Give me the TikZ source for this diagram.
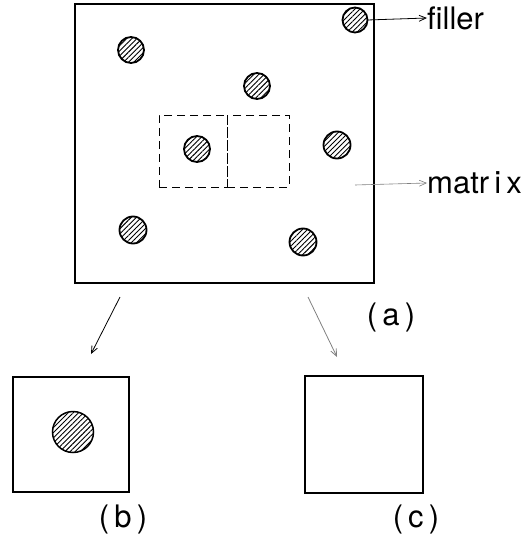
\documentclass[tikz,border=0pt]{standalone}
\usepackage{fontspec}
\setmainfont{TeX Gyre Heros}
\usetikzlibrary{arrows.meta,patterns.meta}
\begin{document}
\begin{tikzpicture}[x=1pt,y=-1pt,
  box/.style={draw,line width=1.3pt,inner sep=0,outer sep=0},
  dbox/.style={draw,dashed,dash pattern=on 8pt off 5pt,line width=0.9pt,inner sep=0,outer sep=0},
  filler/.style={circle,draw,line width=1.8pt,inner sep=0,outer sep=0,
     pattern={Lines[angle=45,distance=3.6pt,line width=0.9pt]}},
  lab/.style={font=\fontsize{31}{34}\selectfont,inner sep=0},
  arr/.style={-{Straight Barb[length=7pt,width=6pt]},line width=0.8pt}]
\useasboundingbox (0,0) rectangle (525,537);
% main square
\node[box,minimum width=299pt,minimum height=279pt] (A) at (224.5,143.5) {};
% dashed cells
\node[dbox,minimum width=68pt,minimum height=72pt] (d1) at (193,151) {};
\node[dbox,minimum width=62pt,minimum height=72pt] (d2) at (258,151) {};
% fillers
\node[filler,minimum size=25pt] (f1) at (355,20) {};
\node[filler,minimum size=26pt] (f2) at (131,50) {};
\node[filler,minimum size=26pt] (f3) at (257,86) {};
\node[filler,minimum size=26pt] (f4) at (197,149) {};
\node[filler,minimum size=27pt] (f5) at (337,145) {};
\node[filler,minimum size=27pt] (f6) at (133,230) {};
\node[filler,minimum size=27pt] (f7) at (303,242) {};
% labels
\node[lab,anchor=west] (tf) at (427,18) {filler};
\node[lab,anchor=west] (tm) at (427,183) {matr\,i\,x};
\coordinate (m0) at (355,185);
\draw[arr] (f1.east) -- (tf.west);
\draw[arr,line width=0.6pt,gray] (m0) -- (tm.west);
\node[lab] (la) at (391,317) {(\,a\,)};
% arrows down
\coordinate (s1) at (120,297);
\coordinate (e1) at (91,354);
\coordinate (s2) at (308,297);
\coordinate (e2) at (337,357);
\draw[arr] (s1) -- (e1);
\draw[arr,gray] (s2) -- (e2);
% sub boxes
\node[box,minimum width=116pt,minimum height=115pt] (B) at (71,434.5) {};
\node[filler,minimum size=41pt,line width=1.5pt] (fb) at (73,432) {};
\node[box,minimum width=118pt,minimum height=117pt] (C) at (364,434.5) {};
\node[lab] (lb) at (123,519) {(\,b\,)};
\node[lab] (lc) at (416,519) {(\,c\,)};
\end{tikzpicture}
\end{document}
